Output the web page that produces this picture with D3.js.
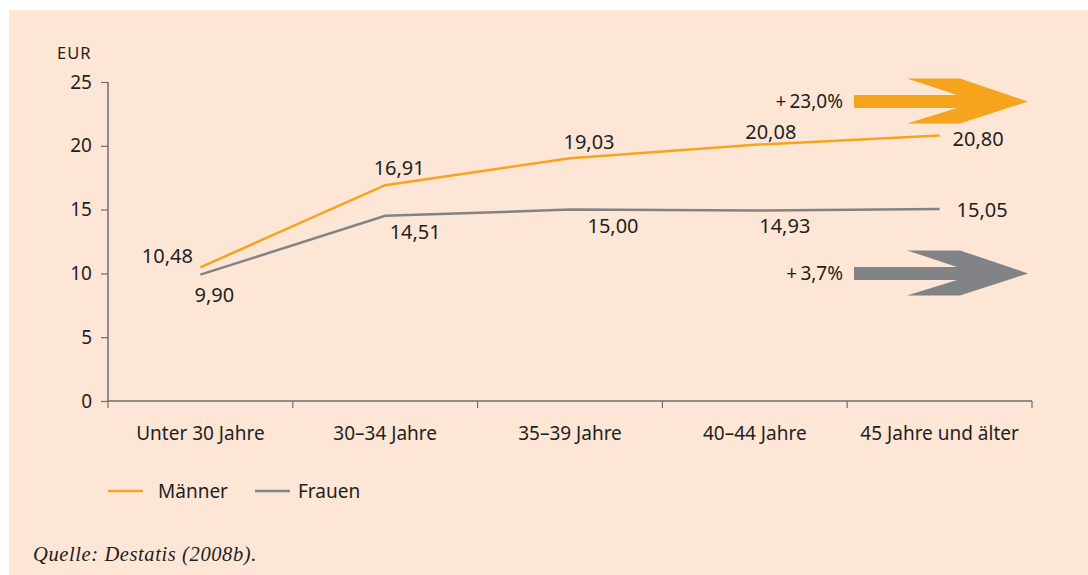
<!DOCTYPE html>
<html>
<head>
<meta charset="utf-8">
<script src="https://cdn.jsdelivr.net/npm/d3@7"></script>
<style>
  body { margin: 0; background: #fff; }
  text { font-family: "Noto Sans", sans-serif; fill: #231f20; }
</style>
</head>
<body>
<script>
// Bruttostundenverdienst nach Alter
let categories = ["Unter 30 Jahre", "30–34 Jahre", "35–39 Jahre", "40–44 Jahre", "45 Jahre und älter"];
let maenner = [10.48, 16.91, 19.03, 20.08, 20.80];
let frauen = [9.90, 14.51, 15.00, 14.93, 15.05];
let yTicks = [0, 5, 10, 15, 20, 25];
let seriesNames = ["Männer", "Frauen"];
let changes = ["+\u200923,0%", "+\u20093,7%"];

// label placement relative to the point (dx, dy, anchor)
let maennerLabelPos = [[-33, -4, "middle"], [14, -10, "middle"], [19, -9, "middle"], [16, -6, "middle"], [13, 10, "start"]];
let frauenLabelPos = [[14, 27, "middle"], [30, 23, "middle"], [43, 23, "middle"], [30, 23, "middle"], [17, 8, "start"]];

let orange = "#f6a31e";
let grey = "#828386";
let axisCol = "#6d6e71";

let svg = d3.select("body").append("svg")
    .attr("width", 1088)
    .attr("height", 575)

svg.append("rect")
    .attr("x", 9).attr("y", 10)
    .attr("width", 1079).attr("height", 565)
    .attr("fill", "#fde6d6")

let x = d3.scaleBand().domain(categories).range([108, 1032]);
let y = d3.scaleLinear().domain([0, 25]).range([401, 82]);
let cx = d => x(d) + x.bandwidth() / 2;

// y axis
let yAxis = svg.append("g")
    .attr("transform", "translate(108,0)")
    .call(d3.axisLeft(y).tickValues(yTicks).tickSize(7).tickPadding(9));
yAxis.select(".domain").attr("stroke", axisCol).attr("stroke-width", 1.5).attr("d", "M0,82V401");
yAxis.selectAll(".tick line").attr("stroke", axisCol).attr("stroke-width", 1.2);
yAxis.selectAll("text").style("font-size", "19px").attr("fill", "#231f20");

svg.append("text")
    .attr("x", 57).attr("y", 59)
    .style("font-size", "16.5px")
    .style("letter-spacing", "1px")
    .text("EUR")

// x axis
let xAxis = svg.append("g")
    .attr("transform", "translate(0,401)")
    .call(d3.axisBottom(x).tickSize(0).tickPadding(26));
xAxis.select(".domain").attr("stroke", axisCol).attr("stroke-width", 1.5).attr("d", "M108,0H1032");
xAxis.selectAll("text").style("font-size", "19px").attr("fill", "#231f20");

let edges = categories.map(c => x(c)).concat([x.range()[1]]);
svg.selectAll(".xedge").data(edges).enter()
    .append("line")
    .attr("x1", d => d).attr("x2", d => d)
    .attr("y1", 401).attr("y2", 408)
    .attr("stroke", axisCol).attr("stroke-width", 1.2)

// lines
let line = d3.line()
    .x((d, i) => cx(categories[i]))
    .y(d => y(d));

svg.append("path").datum(frauen)
    .attr("d", line).attr("fill", "none")
    .attr("stroke", grey).attr("stroke-width", 2.5)

svg.append("path").datum(maenner)
    .attr("d", line).attr("fill", "none")
    .attr("stroke", orange).attr("stroke-width", 2.5)

// value labels
function labels(data, pos) {
    svg.selectAll(null).data(data).enter()
        .append("text")
        .attr("x", (d, i) => cx(categories[i]) + pos[i][0])
        .attr("y", (d, i) => y(d) + pos[i][1])
        .attr("text-anchor", (d, i) => pos[i][2])
        .style("font-size", "20px")
        .text(d => d.toFixed(2).replace(".", ","))
}
labels(maenner, maennerLabelPos);
labels(frauen, frauenLabelPos);

// arrows with percentage change
function arrow(yc, col, txt) {
    svg.append("polygon")
        .attr("points", [
            [854, yc - 6.5], [957, yc - 6.5], [907, yc - 23], [960, yc - 23],
            [1028, yc], [960, yc + 22], [907, yc + 22], [957, yc + 6.5], [854, yc + 6.5]
        ].map(p => p.join(",")).join(" "))
        .attr("fill", col)
    svg.append("text")
        .attr("x", 843).attr("y", yc + 6.5)
        .attr("text-anchor", "end")
        .style("font-size", "19px")
        .text(txt)
}
arrow(y(maenner[4]) - 34, orange, changes[0]);
arrow(y(10), grey, changes[1]);

// legend
let legend = svg.append("g").attr("transform", "translate(108,491)");
[orange, grey].forEach((c, i) => {
    let g = legend.append("g").attr("transform", "translate(" + (i * 147) + ",0)");
    g.append("line").attr("x1", 0).attr("x2", 35).attr("stroke", c).attr("stroke-width", 2.5);
    g.append("text").attr("x", 50 - i * 7).attr("y", 7).style("font-size", "19px").text(seriesNames[i]);
});

svg.append("text")
    .attr("x", 33).attr("y", 561)
    .style("font-family", "'Liberation Serif', serif")
    .style("font-style", "italic")
    .style("font-size", "20.5px")
    .style("letter-spacing", "0.6px")
    .text("Quelle: Destatis (2008b).")
</script>
</body>
</html>
